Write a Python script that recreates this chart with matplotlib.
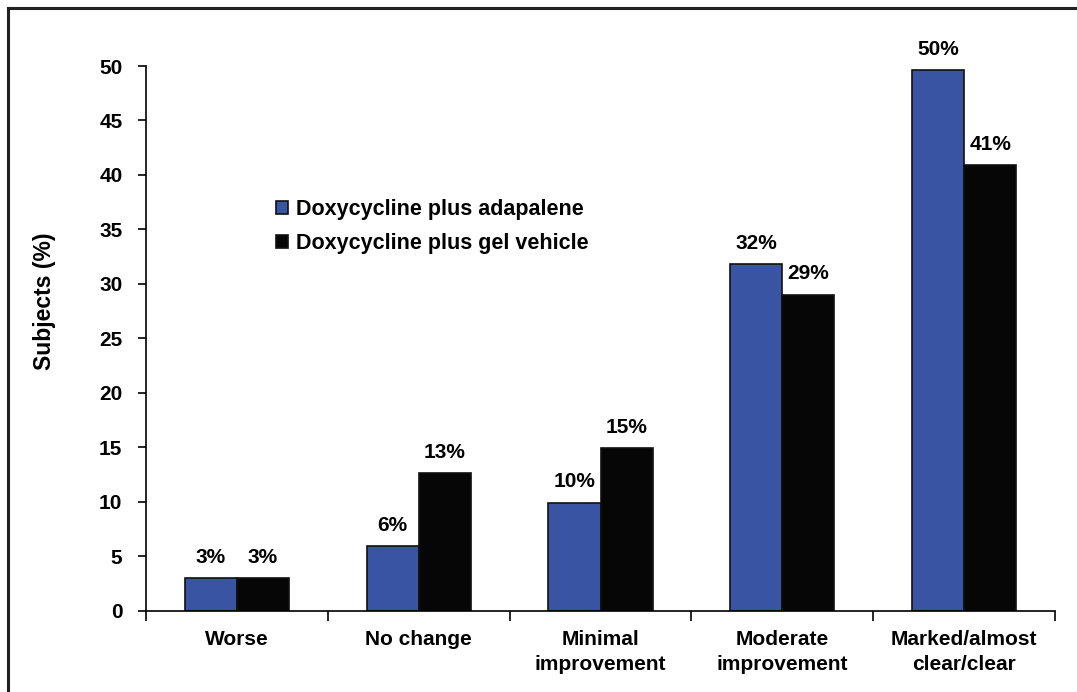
import numpy as np
import matplotlib
matplotlib.use("Agg")
import matplotlib.pyplot as plt
from matplotlib.lines import Line2D

plt.rcParams['font.family'] = ['Liberation Sans', 'DejaVu Sans']
plt.rcParams['font.weight'] = 'bold'

categories = ["Worse", "No change", "Minimal\nimprovement", "Moderate\nimprovement", "Marked/almost\nclear/clear"]
adapalene = [3.0, 5.9, 9.9, 31.8, 49.6]
gel_vehicle = [3.0, 12.6, 14.9, 29.0, 40.9]
adapalene_labels = ["3%", "6%", "10%", "32%", "50%"]
gel_labels = ["3%", "13%", "15%", "29%", "41%"]
series_names = ["Doxycycline plus adapalene", "Doxycycline plus gel vehicle"]

blue = "#3A54A4"
black = "#060606"

fig = plt.figure(figsize=(10.77, 6.92), dpi=100)
ax = fig.add_axes([146/1077, 1-610.5/692, (1055-146)/1077, (610.5-66)/692])

x = np.arange(len(categories)) + 0.5
w = 0.287
b1 = ax.bar(x - w/2, adapalene, w, color=blue, edgecolor="#111111", linewidth=1.2, label=series_names[0])
b2 = ax.bar(x + w/2, gel_vehicle, w, color=black, edgecolor="#111111", linewidth=1.2, label=series_names[1])

for bars, labs in ((b1, adapalene_labels), (b2, gel_labels)):
    for r, t in zip(bars, labs):
        ax.annotate(t, (r.get_x() + r.get_width()/2, r.get_height()),
                    xytext=(0, 11), textcoords="offset points",
                    ha="center", va="baseline", fontsize=15, fontweight="bold")

ax.set_xlim(0, len(categories))
ax.set_ylim(0, 50)
ax.set_yticks(np.arange(0, 51, 5))
ax.set_xticks(np.arange(0, len(categories) + 1))
ax.set_xticklabels([])
ax.set_xticks(x, minor=True)
ax.set_xticklabels(categories, minor=True, fontsize=15, fontweight="bold", linespacing=1.4)
ax.tick_params(axis="x", which="minor", length=0, pad=14)
ax.tick_params(axis="x", which="major", length=7, width=1.2, direction="out")
ax.tick_params(axis="y", length=6, width=1.2, direction="out", pad=11, labelsize=15)
for lab in ax.get_yticklabels():
    lab.set_fontweight("bold")

for s in ("top", "right"):
    ax.spines[s].set_visible(False)
for s in ("left", "bottom"):
    ax.spines[s].set_linewidth(1.2)

fig.text(45/1077, 1-301/692, "Subjects (%)", rotation=90, ha="center", va="center",
         fontsize=16.5, fontweight="bold")

leg = ax.legend(loc="upper left", bbox_to_anchor=(276/1077, 1-199/692), bbox_transform=fig.transFigure,
                frameon=False, fontsize=15.5, handlelength=0.55, handleheight=0.55,
                handletextpad=0.4, labelspacing=0.6, borderpad=0, borderaxespad=0)
for t in leg.get_texts():
    t.set_fontweight("bold")

# outer frame
fig.add_artist(Line2D([8/1077, 8/1077], [0, 1-8/692], transform=fig.transFigure, color="#222222", linewidth=2.2))
fig.add_artist(Line2D([8/1077, 1], [1-8/692, 1-8/692], transform=fig.transFigure, color="#222222", linewidth=2.2))

fig.savefig("out.png", dpi=100)
